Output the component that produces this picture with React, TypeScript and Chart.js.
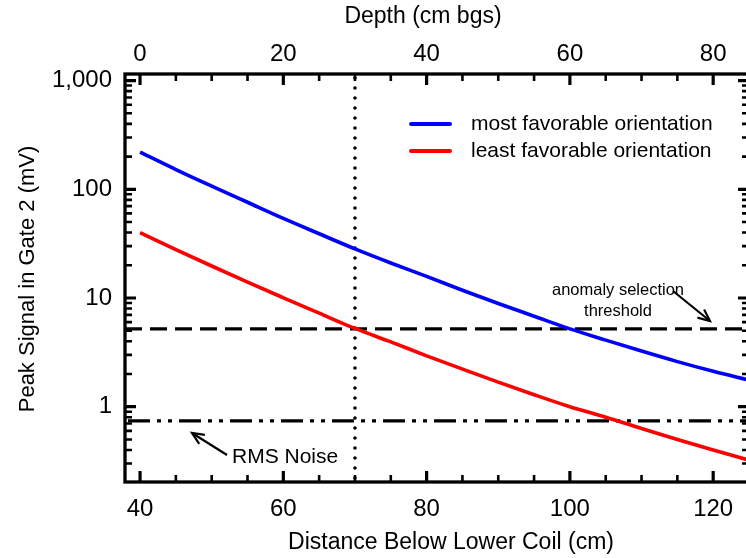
import React, { useEffect, useRef } from "react";
import { Chart, registerables } from "chart.js";

Chart.register(...registerables);

// ---- data ----
const distance = [40, 45, 50, 55, 60, 65, 70, 75, 80, 85, 90, 95, 100, 105, 110, 115, 120, 125];
const mostFavorable = [220, 152, 107, 76, 54, 39, 28.3, 21, 15.8, 11.8, 8.9, 6.8, 5.2, 4.1, 3.25, 2.6, 2.12, 1.76];
const leastFavorable = [40, 27.9, 19.7, 14.0, 10.05, 7.25, 5.25, 3.95, 2.94, 2.22, 1.685, 1.29, 1.0, 0.8, 0.63, 0.5, 0.4, 0.322];
const distanceTicks = [40, 60, 80, 100, 120];
const depthTicks = [0, 20, 40, 60, 80];
const signalTicks = [1, 10, 100, 1000];
const anomalyThreshold = 5.2;
const rmsNoise = 0.74;
const depthMarker = 70; // distance (cm)
const depthOffset = 40; // depth = distance - 40
const xMin = 37.9;
const xMax = 125;
const yMin = 0.203;
const yMax = 1150;

const FONT = "'Liberation Sans', Arial, Helvetica, sans-serif";

function arrow(ctx: CanvasRenderingContext2D, x0: number, y0: number, x1: number, y1: number) {
  ctx.beginPath();
  ctx.moveTo(x0, y0);
  ctx.lineTo(x1, y1);
  ctx.stroke();
  const ang = Math.atan2(y1 - y0, x1 - x0);
  const len = 13;
  const spread = 0.42;
  ctx.beginPath();
  ctx.moveTo(x1 - len * Math.cos(ang - spread), y1 - len * Math.sin(ang - spread));
  ctx.lineTo(x1, y1);
  ctx.lineTo(x1 - len * Math.cos(ang + spread), y1 - len * Math.sin(ang + spread));
  ctx.stroke();
}

const overlay = {
  id: "overlay",
  beforeDatasetsDraw(chart: any) {
    const { ctx, chartArea: a, scales } = chart;
    const x = scales.x;
    const y = scales.y;
    ctx.save();
    ctx.beginPath();
    ctx.rect(a.left, a.top, a.right - a.left, a.bottom - a.top);
    ctx.clip();
    ctx.strokeStyle = "#000";
    ctx.lineCap = "butt";
    ctx.lineWidth = 3.2;
    ctx.setLineDash([17, 8]);
    let py = y.getPixelForValue(anomalyThreshold);
    ctx.beginPath();
    ctx.moveTo(a.left, py);
    ctx.lineTo(a.right, py);
    ctx.stroke();

    ctx.setLineDash([22, 7, 4, 7, 4, 7]);
    py = y.getPixelForValue(rmsNoise);
    ctx.beginPath();
    ctx.moveTo(a.left + 3, py);
    ctx.lineTo(a.right, py);
    ctx.stroke();

    ctx.setLineDash([0, 10]);
    ctx.lineCap = "round";
    ctx.lineWidth = 3.6;
    const px = x.getPixelForValue(depthMarker);
    ctx.beginPath();
    ctx.moveTo(px, a.top + 4);
    ctx.lineTo(px, a.bottom);
    ctx.stroke();
    ctx.restore();
  },
  afterDraw(chart: any) {
    const { ctx, chartArea: a, scales } = chart;
    const x = scales.x;
    const x2 = scales.x2;
    const y = scales.y;
    ctx.save();
    ctx.strokeStyle = "#000";
    ctx.fillStyle = "#000";
    ctx.setLineDash([]);
    ctx.lineCap = "butt";

    // ticks bottom
    for (let v = 40; v <= xMax; v += 5) {
      const px = x.getPixelForValue(v);
      const major = v % 20 === 0;
      ctx.lineWidth = major ? 3.2 : 2.6;
      const len = major ? 11 : 7;
      ctx.beginPath();
      ctx.moveTo(px, a.bottom);
      ctx.lineTo(px, a.bottom - len);
      ctx.stroke();
    }
    // ticks top
    for (let d = 0; d <= xMax - depthOffset; d += 5) {
      const px = x2.getPixelForValue(d);
      const major = d % 20 === 0;
      ctx.lineWidth = major ? 3.2 : 2.6;
      const len = major ? 11 : 7;
      ctx.beginPath();
      ctx.moveTo(px, a.top);
      ctx.lineTo(px, a.top + len);
      ctx.stroke();
    }
    // ticks left / right (log)
    for (let k = -1; k <= 3; k++) {
      for (let m = 1; m <= 9; m++) {
        const v = m * Math.pow(10, k);
        if (v < yMin * 0.999 || v > yMax) continue;
        const py = y.getPixelForValue(v);
        const major = m === 1;
        ctx.lineWidth = major ? 3.2 : 2.6;
        const len = major ? 11 : 7;
        ctx.beginPath();
        ctx.moveTo(a.left, py);
        ctx.lineTo(a.left + len, py);
        ctx.moveTo(a.right, py);
        ctx.lineTo(a.right - len, py);
        ctx.stroke();
      }
    }
    // spines
    ctx.lineWidth = 3.3;
    ctx.strokeRect(a.left, a.top, a.right - a.left, a.bottom - a.top);

    // legend
    ctx.lineWidth = 4;
    ctx.lineCap = "round";
    ctx.strokeStyle = "#0000ff";
    ctx.beginPath();
    ctx.moveTo(411, 124);
    ctx.lineTo(450, 124);
    ctx.stroke();
    ctx.strokeStyle = "#ff0000";
    ctx.beginPath();
    ctx.moveTo(411, 151);
    ctx.lineTo(450, 151);
    ctx.stroke();
    ctx.fillStyle = "#000";
    ctx.font = `21px ${FONT}`;
    ctx.textAlign = "left";
    ctx.textBaseline = "middle";
    ctx.fillText("most favorable orientation", 471, 124);
    ctx.fillText("least favorable orientation", 471, 151);

    // annotations
    ctx.strokeStyle = "#000";
    ctx.lineCap = "butt";
    ctx.lineWidth = 2.2;
    ctx.font = `16.5px ${FONT}`;
    ctx.textAlign = "center";
    ctx.fillText("anomaly selection", 618, 290);
    ctx.fillText("threshold", 618, 311);
    arrow(ctx, 673, 291, 710, 321);

    ctx.font = `21px ${FONT}`;
    ctx.textAlign = "left";
    ctx.fillText("RMS Noise", 232, 457);
    arrow(ctx, 227, 455, 192, 433);

    // axis titles
    ctx.font = `23px ${FONT}`;
    ctx.textAlign = "center";
    ctx.textBaseline = "middle";
    ctx.fillText("Distance Below Lower Coil (cm)", 451, 543);
    ctx.fillText("Depth (cm bgs)", 423, 17);
    ctx.save();
    ctx.translate(28, 279);
    ctx.rotate(-Math.PI / 2);
    ctx.font = `22px ${FONT}`;
    ctx.fillText("Peak Signal in Gate 2 (mV)", 0, 0);
    ctx.restore();

    ctx.restore();
  },
};

export default function App() {
  const ref = useRef<HTMLCanvasElement>(null);
  useEffect(() => {
    if (!ref.current) return;
    const tickFont = { family: FONT, size: 24 };
    const chart = new Chart(ref.current, {
      type: "line",
      data: {
        datasets: [
          {
            label: "most favorable orientation",
            data: distance.map((d, i) => ({ x: d, y: mostFavorable[i] })),
            borderColor: "#0000ff",
            borderWidth: 3.6,
            pointRadius: 0,
            cubicInterpolationMode: "monotone",
            fill: false,
          },
          {
            label: "least favorable orientation",
            data: distance.map((d, i) => ({ x: d, y: leastFavorable[i] })),
            borderColor: "#ff0000",
            borderWidth: 3.6,
            pointRadius: 0,
            cubicInterpolationMode: "monotone",
            fill: false,
          },
        ],
      },
      options: {
        responsive: false,
        animation: false,
        devicePixelRatio: 1,
        layout: { padding: { left: 0, right: 21, top: 0, bottom: 0 } },
        plugins: { legend: { display: false }, tooltip: { enabled: false }, title: { display: false } },
        scales: {
          x: {
            type: "linear",
            position: "bottom",
            min: xMin,
            max: xMax,
            grid: { display: false, drawTicks: false },
            border: { display: false },
            ticks: { font: tickFont, color: "#000", padding: 13, maxRotation: 0, autoSkip: false },
            afterBuildTicks: (s: any) => {
              s.ticks = distanceTicks.map((v) => ({ value: v }));
            },
            afterFit: (s: any) => {
              s.height = 76;
              s.paddingLeft = 0;
              s.paddingRight = 0;
            },
          },
          x2: {
            type: "linear",
            position: "top",
            min: xMin - depthOffset,
            max: xMax - depthOffset,
            grid: { display: false, drawTicks: false },
            border: { display: false },
            ticks: { font: tickFont, color: "#000", padding: 5, maxRotation: 0, autoSkip: false },
            afterBuildTicks: (s: any) => {
              s.ticks = depthTicks.map((v) => ({ value: v }));
            },
            afterFit: (s: any) => {
              s.height = 74;
              s.paddingLeft = 0;
              s.paddingRight = 0;
            },
          },
          y: {
            type: "logarithmic",
            position: "left",
            min: yMin,
            max: yMax,
            grid: { display: false, drawTicks: false },
            border: { display: false },
            ticks: {
              font: tickFont,
              color: "#000",
              padding: 13,
              autoSkip: false,
              callback: (v: any) => Number(v).toLocaleString("en-US"),
            },
            afterBuildTicks: (s: any) => {
              s.ticks = signalTicks.map((v) => ({ value: v }));
            },
            afterFit: (s: any) => {
              s.width = 125;
              s.paddingTop = 0;
              s.paddingBottom = 0;
            },
          },
        },
      },
      plugins: [overlay],
    } as any);
    return () => chart.destroy();
  }, []);
  return (
    <div
      style={{
        position: "fixed",
        left: 0,
        top: 0,
        width: 746,
        height: 558,
        overflow: "hidden",
        background: "#fff",
      }}
    >
      <canvas ref={ref} width={770} height={558} style={{ display: "block", width: 770, height: 558 }} />
    </div>
  );
}
